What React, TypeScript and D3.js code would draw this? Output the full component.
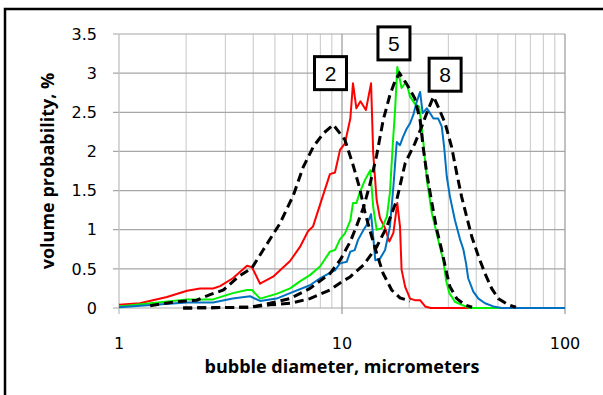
import React from 'react';
import * as d3 from 'd3';

// bubble diameter (micrometers), volume probability (%)
const redSeries = [
  [1.0, 0.04], [1.24, 0.06], [1.64, 0.14], [2.02, 0.22], [2.31, 0.25], [2.64, 0.25], [2.84, 0.28],
  [3.24, 0.38], [3.75, 0.54], [3.95, 0.52], [4.29, 0.31], [4.91, 0.40], [5.85, 0.60], [6.48, 0.78],
  [7.04, 0.98], [7.41, 1.04], [8.14, 1.40], [8.83, 1.71], [9.30, 1.73], [9.80, 2.02], [10.3, 2.10],
  [10.9, 2.42], [11.2, 2.87], [11.6, 2.55], [12.1, 2.64], [12.8, 2.53], [13.5, 2.87], [13.8, 1.98],
  [14.3, 1.38], [14.8, 1.15], [15.6, 1.02], [16.3, 0.85], [17.0, 0.96], [17.7, 1.34], [18.2, 1.04],
  [18.5, 0.49], [19.2, 0.27], [20.2, 0.12], [21.2, 0.10], [22.4, 0.10], [23.6, 0.02], [25, 0], [100, 0],
];

const greenSeries = [
  [1.0, 0.02], [2.02, 0.11], [2.64, 0.11], [3.24, 0.19], [3.75, 0.23], [3.95, 0.23], [4.29, 0.12],
  [5.09, 0.18], [5.85, 0.25], [6.48, 0.34], [7.18, 0.42], [7.97, 0.53], [8.83, 0.72], [9.30, 0.74],
  [9.80, 0.88], [10.3, 0.95], [10.9, 1.12], [11.2, 1.34], [11.6, 1.34], [12.0, 1.47], [12.7, 1.64],
  [13.4, 1.76], [13.8, 1.29], [14.3, 1.0], [15.1, 1.02], [15.9, 1.17], [16.4, 1.47], [16.9, 2.10],
  [17.3, 2.53], [17.7, 3.08], [18.5, 2.81], [19.4, 2.89], [20.2, 2.70], [21.2, 2.61], [22.2, 2.57],
  [23.2, 2.10], [24.0, 1.64], [25.3, 1.21], [27.0, 0.87], [28.5, 0.60], [29.3, 0.35], [30.3, 0.19],
  [32.1, 0.08], [34.4, 0.04], [37.5, 0], [100, 0],
];

const blueSeries = [
  [1.0, 0.01], [2.02, 0.07], [2.64, 0.07], [3.24, 0.12], [3.87, 0.15], [4.29, 0.09], [5.09, 0.12],
  [5.85, 0.19], [7.18, 0.29], [7.97, 0.38], [8.83, 0.45], [9.30, 0.48], [9.80, 0.57], [10.5, 0.59],
  [10.9, 0.72], [11.4, 0.74], [11.8, 0.87], [12.5, 1.0], [12.9, 1.06], [13.5, 1.20], [13.8, 0.91],
  [14.1, 0.61], [14.8, 0.63], [15.6, 0.74], [16.4, 1.04], [17.0, 1.55], [17.6, 2.12], [18.2, 2.08],
  [18.8, 2.19], [19.5, 2.29], [20.2, 2.36], [20.9, 2.47], [21.5, 2.61], [22.4, 2.76], [23.0, 2.49],
  [24.0, 2.55], [24.8, 2.49], [25.7, 2.42], [27.0, 2.42], [28.0, 2.32], [28.7, 2.06], [29.5, 1.68],
  [30.5, 1.42], [32.1, 1.12], [33.8, 0.88], [35.0, 0.75], [36.0, 0.57], [36.8, 0.38], [38.8, 0.21],
  [40.9, 0.12], [43.8, 0.06], [47.7, 0.02], [52, 0], [100, 0],
];

const fit2 = [
  [1.38, 0.03], [1.81, 0.08], [2.23, 0.10], [2.56, 0.17], [2.94, 0.23], [3.43, 0.40], [3.94, 0.51],
  [4.43, 0.74], [5.27, 1.08], [6.05, 1.44], [6.70, 1.80], [7.44, 2.06], [8.24, 2.23], [9.14, 2.34],
  [10.3, 2.15], [11.2, 1.83], [12.0, 1.53], [12.7, 1.21], [13.6, 0.91], [14.3, 0.70], [15.3, 0.44],
  [16.7, 0.23], [18.2, 0.13], [20.2, 0.09],
];

const fit5 = [
  [1.94, 0], [3.87, 0.01], [4.75, 0.06], [5.85, 0.12], [7.18, 0.25], [8.83, 0.44], [9.80, 0.61],
  [10.9, 0.85], [11.6, 1.04], [12.5, 1.29], [13.4, 1.60], [14.3, 1.95], [15.3, 2.40], [16.4, 2.72],
  [17.3, 2.90], [18.1, 3.0], [19.8, 2.83], [21.2, 2.68], [22.4, 2.40], [23.2, 2.02], [24.0, 1.72],
  [25.3, 1.34], [26.6, 1.0], [28.0, 0.74], [29.5, 0.44], [30.5, 0.27], [32.7, 0.12], [35.6, 0.04],
  [38.3, 0.01],
];

const fit8 = [
  [1.94, 0], [3.87, 0.01], [4.75, 0.04], [5.85, 0.06], [7.18, 0.12], [8.83, 0.23], [9.80, 0.32],
  [10.9, 0.40], [12.5, 0.55], [14.3, 0.78], [15.9, 1.04], [17.6, 1.38], [19.2, 1.85], [21.2, 2.10],
  [22.8, 2.32], [24.0, 2.49], [25.7, 2.70], [27.0, 2.57], [29.0, 2.36], [31.0, 2.06], [32.7, 1.72],
  [34.4, 1.42], [36.2, 1.17], [38.2, 0.91], [40.9, 0.66], [43.8, 0.44], [46.9, 0.25], [50.2, 0.12],
  [55.7, 0.04], [60.3, 0.01],
];

// boxed labels, centre in data coordinates
const boxLabels = [
  { text: '2', x: 8.88, y: 3.0 },
  { text: '5', x: 17.1, y: 3.38 },
  { text: '8', x: 29.0, y: 2.98 },
];

const yTicks = [0, 0.5, 1, 1.5, 2, 2.5, 3, 3.5];
const xMajor = [1, 10, 100];
const xMinor = [2, 3, 4, 5, 6, 7, 8, 9, 20, 30, 40, 50, 60, 70, 80, 90];

const W = 603;
const H = 395;
const tickFont = '"DejaVu Sans", "Liberation Sans", sans-serif';
const titleFont = '"Open Sans", "Liberation Sans", sans-serif';
const boxFont = '"Liberation Sans", Arial, sans-serif';

export default function App() {
  const x = d3.scaleLog().domain([1, 100]).range([119, 565]);
  const y = d3.scaleLinear().domain([0, 3.5]).range([308, 34]);
  const line = d3.line<number[]>().x(d => x(d[0])).y(d => y(d[1]));

  const solid = [
    { data: redSeries, color: '#ff0000' },
    { data: greenSeries, color: '#00f000' },
    { data: blueSeries, color: '#0070c0' },
  ];
  const dashed = [fit2, fit5, fit8];

  return (
    <svg width={W} height={H} style={{ position: 'absolute', left: 0, top: 0, background: '#fff' }}>
      <rect x={5} y={9} width={640} height={420} fill="#fff" stroke="#000" strokeWidth={2.5} />

      {/* grid */}
      {xMinor.map(v => (
        <line key={'mx' + v} x1={x(v)} x2={x(v)} y1={y(3.5)} y2={y(0)} stroke="#d0d0d0" strokeWidth={1.2} />
      ))}
      {yTicks.map(v => (
        <line key={'gy' + v} x1={113} x2={x(100)} y1={y(v)} y2={y(v)} stroke="#a6a6a6" strokeWidth={1.2} />
      ))}
      {xMajor.map(v => (
        <line key={'gx' + v} x1={x(v)} x2={x(v)} y1={y(3.5)} y2={y(0) + 6}
          stroke={v === 1 ? '#c0c0c0' : '#a0a0a0'} strokeWidth={1.3} />
      ))}

      {/* series */}
      {solid.map((s, i) => (
        <path key={'s' + i} d={line(s.data) || ''} fill="none" stroke={s.color} strokeWidth={2}
          strokeLinejoin="round" />
      ))}
      {dashed.map((s, i) => (
        <path key={'d' + i} d={line(s) || ''} fill="none" stroke="#000" strokeWidth={3}
          strokeDasharray="9,5" />
      ))}

      {/* tick labels */}
      {yTicks.map(v => (
        <text key={'ty' + v} x={97} y={y(v)} dy="0.36em" textAnchor="end" fontSize={16}
          fontFamily={tickFont} fill="#000">{String(v)}</text>
      ))}
      {xMajor.map(v => (
        <text key={'tx' + v} x={x(v)} y={349} textAnchor="middle" fontSize={16}
          fontFamily={tickFont} fill="#000">{String(v)}</text>
      ))}

      {/* axis titles */}
      <text x={342} y={373} textAnchor="middle" fontSize={18} fontWeight="bold" fontFamily={titleFont}>
        bubble diameter, micrometers
      </text>
      <text transform={`translate(54,171) rotate(-90)`} textAnchor="middle" fontSize={18}
        fontWeight="bold" fontFamily={titleFont}>
        volume probability, %
      </text>

      {/* boxed labels */}
      {boxLabels.map(b => (
        <g key={b.text} transform={`translate(${x(b.x)},${y(b.y)})`}>
          <rect x={-16} y={-16.5} width={32} height={33} fill="#fff" stroke="#000" strokeWidth={3} />
          <text x={0} y={0} dy="0.36em" textAnchor="middle" fontSize={21} fontFamily={boxFont}>{b.text}</text>
        </g>
      ))}
    </svg>
  );
}
